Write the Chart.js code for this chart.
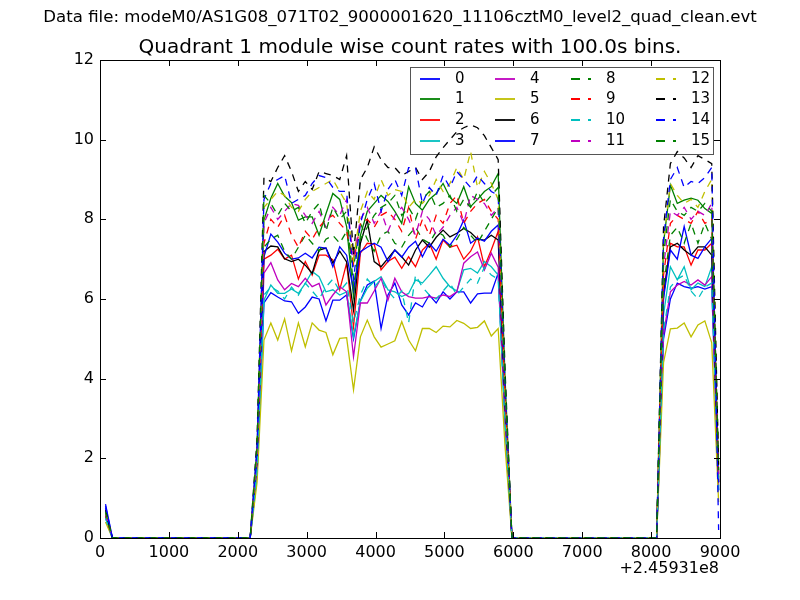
<!DOCTYPE html>
<html>
<head>
<meta charset="utf-8">
<script src="https://cdn.jsdelivr.net/npm/chart.js@4.4.1/dist/chart.umd.min.js"></script>
<style>
  body { margin: 0; background: #fff; }
  canvas { display: block; }
</style>
</head>
<body>
<canvas id="chartRates" width="800" height="600"></canvas>
<script>
// bin centres (s), offset by 2.45931e8
const times = [80,180,280,380,480,580,680,780,880,980,1080,1180,1280,1380,1480,1580,1680,1780,1880,1980,
  2080,2180,2280,2380,2480,2580,2680,2780,2880,2980,3080,3180,3280,3380,3480,3580,3680,3780,3880,3980,
  4080,4180,4280,4380,4480,4580,4680,4780,4880,4980,5080,5180,5280,5380,5480,5580,5680,5780,5880,5980,
  6080,6180,6280,6380,6480,6580,6680,6780,6880,6980,7080,7180,7280,7380,7480,7580,7680,7780,7880,7980,
  8080,8180,8280,8380,8480,8580,8680,8780,8880,8980];

const xTicks = [0,1000,2000,3000,4000,5000,6000,7000,8000,9000];
const yTicks = [0,2,4,6,8,10,12];

const seriesLabels = ["0","1","2","3","4","5","6","7","8","9","10","11","12","13","14","15"];

// count rates per module (counts/s)
const rate0 = [0.75,
  0,0,0,0,0, 0,0,0,0,0, 0,0,0,0,0, 0,0,0,0,0, 0,
  1.6,
  5.9,6.16,6.05,5.95,5.93,5.64,5.8,6.05,6.0,5.45, 5.97,5.97,6.1,5.0,5.95,6.35,6.45,5.26,6.1,6.4,
  5.85,5.6,5.9,5.8,6.1,5.9,6.18,6.0,6.18,6.18, 5.9,6.13,6.15,6.15,6.65,
  2.9,
  0,0,0,0,0, 0,0,0,0,0, 0,0,0,0,0, 0,0,0,0,0, 0,0,
  5.0,
  6.0,6.4,6.31,6.27,6.31,6.25,6.31,
  1.2];
const rate1 = [0.6,
  0,0,0,0,0, 0,0,0,0,0, 0,0,0,0,0, 0,0,0,0,0, 0,
  2.2,
  7.98,8.53,8.9,8.58,8.42,7.98,8.06,8.06,7.6,8.14, 8.65,8.5,7.82,6.06,7.6,8.2,8.4,8.6,8.45,8.2,
  7.9,8.82,8.4,8.23,8.5,8.65,8.9,8.55,8.4,8.82, 8.32,8.5,8.7,8.82,9.15,
  4.0,
  0,0,0,0,0, 0,0,0,0,0, 0,0,0,0,0, 0,0,0,0,0, 0,0,
  7.4,
  8.86,8.4,8.48,8.53,8.48,8.27,8.15,
  1.6];
const rate2 = [0.55,
  0,0,0,0,0, 0,0,0,0,0, 0,0,0,0,0, 0,0,0,0,0, 0,
  1.9,
  7.0,7.1,7.25,7.0,7.1,6.5,6.94,6.6,7.1,7.1, 6.98,6.23,6.9,5.3,7.15,7.4,7.38,6.73,6.94,7.05,
  6.77,7.06,6.81,7.23,7.4,7.0,7.48,7.3,7.35,7.0, 7.2,7.56,6.81,7.23,7.7,
  3.4,
  0,0,0,0,0, 0,0,0,0,0, 0,0,0,0,0, 0,0,0,0,0, 0,0,
  6.1,
  7.4,7.31,7.31,6.85,7.23,7.23,7.4,
  1.4];
const rate3 = [0.5,
  0,0,0,0,0, 0,0,0,0,0, 0,0,0,0,0, 0,0,0,0,0, 0,
  1.6,
  5.97,6.35,6.14,6.14,6.25,6.14,6.39,6.69,6.56,6.18, 6.23,6.1,6.18,5.05,5.94,6.27,6.44,6.56,6.23,6.18,
  6.06,6.14,6.48,6.4,6.6,6.81,6.52,6.31,6.2,6.73, 6.77,6.65,6.94,6.81,6.6,
  2.9,
  0,0,0,0,0, 0,0,0,0,0, 0,0,0,0,0, 0,0,0,0,0, 0,0,
  5.6,
  6.81,6.48,6.81,6.23,6.4,6.31,6.81,
  1.3];
const rate4 = [0.55,
  0,0,0,0,0, 0,0,0,0,0, 0,0,0,0,0, 0,0,0,0,0, 0,
  1.8,
  6.65,6.91,6.48,6.23,6.39,6.31,6.52,6.31,6.39,5.85, 6.1,6.31,6.18,4.55,5.9,5.9,6.2,6.52,5.97,6.52,
  6.18,6.06,6.02,6.02,6.06,6.02,6.1,6.06,6.18,6.9, 7.06,7.18,6.73,7.15,6.8,
  3.0,
  0,0,0,0,0, 0,0,0,0,0, 0,0,0,0,0, 0,0,0,0,0, 0,0,
  5.1,
  6.18,6.35,6.44,6.35,6.48,6.35,6.56,
  1.2];
const rate5 = [0.4,
  0,0,0,0,0, 0,0,0,0,0, 0,0,0,0,0, 0,0,0,0,0, 0,
  1.4,
  4.97,5.4,4.97,5.5,4.7,5.4,4.8,5.4,5.22,5.16, 4.6,5.01,5.03,3.72,5.05,5.47,5.05,4.79,4.87,4.95,
  5.43,4.97,4.7,5.26,5.26,5.16,5.32,5.3,5.46,5.39, 5.26,5.29,5.45,5.07,5.26,
  2.3,
  0,0,0,0,0, 0,0,0,0,0, 0,0,0,0,0, 0,0,0,0,0, 0,0,
  4.4,
  5.25,5.27,5.4,5.05,5.35,5.45,4.9,
  0.9];
const rate6 = [0.6,
  0,0,0,0,0, 0,0,0,0,0, 0,0,0,0,0, 0,0,0,0,0, 0,
  2.0,
  7.19,7.33,7.31,7.01,6.94,7.0,6.85,6.64,7.23,7.28, 6.9,7.2,6.93,5.72,7.4,7.98,6.94,6.81,7.02,7.23,
  7.06,6.85,7.23,7.48,7.3,7.55,7.73,7.56,7.65,7.77, 7.67,7.5,7.48,7.6,7.48,
  3.3,
  0,0,0,0,0, 0,0,0,0,0, 0,0,0,0,0, 0,0,0,0,0, 0,0,
  6.1,
  7.31,7.4,7.23,7.1,7.31,7.31,7.1,
  1.4];
const rate7 = [0.85,
  0,0,0,0,0, 0,0,0,0,0, 0,0,0,0,0, 0,0,0,0,0, 0,
  1.9,
  7.06,7.63,7.43,7.15,7.0,7.03,7.15,7.03,7.3,7.28, 6.81,7.31,7.1,6.22,7.19,7.3,7.4,7.3,6.94,7.23,
  7.05,7.3,7.45,7.06,7.4,7.2,7.5,7.35,7.6,7.98, 7.4,7.53,7.45,7.7,7.86,
  3.5,
  0,0,0,0,0, 0,0,0,0,0, 0,0,0,0,0, 0,0,0,0,0, 0,0,
  6.0,
  7.23,7.0,7.82,7.1,7.02,7.31,7.52,
  1.4];
const rate8 = [0.6,
  0,0,0,0,0, 0,0,0,0,0, 0,0,0,0,0, 0,0,0,0,0, 0,
  2.0,
  7.3,7.5,7.6,7.2,7.0,7.3,7.6,7.4,7.2,7.5, 7.6,7.4,7.7,6.8,7.9,7.5,7.2,7.6,7.7,7.4,
  7.3,7.6,7.8,7.5,7.4,7.7,7.6,7.3,7.5,7.8, 7.6,7.4,7.7,8.0,8.3,
  3.6,
  0,0,0,0,0, 0,0,0,0,0, 0,0,0,0,0, 0,0,0,0,0, 0,0,
  6.3,
  7.6,7.8,7.4,7.9,7.4,7.9,7.5,
  1.5];
const rate9 = [0.6,
  0,0,0,0,0, 0,0,0,0,0, 0,0,0,0,0, 0,0,0,0,0, 0,
  2.0,
  7.4,8.0,7.8,8.1,7.6,7.3,7.7,7.5,7.8,8.0, 8.1,7.9,7.7,6.9,7.9,8.0,7.8,8.1,8.2,8.0,
  7.7,8.3,7.5,8.0,7.6,8.1,7.9,8.4,8.6,7.9, 8.2,8.4,8.5,8.2,8.0,
  3.5,
  0,0,0,0,0, 0,0,0,0,0, 0,0,0,0,0, 0,0,0,0,0, 0,0,
  6.6,
  7.9,8.1,8.0,7.9,8.2,7.9,8.0,
  1.5];
const rate10 = [0.5,
  0,0,0,0,0, 0,0,0,0,0, 0,0,0,0,0, 0,0,0,0,0, 0,
  1.7,
  6.1,6.3,6.2,6.0,6.3,6.1,6.4,6.2,6.0,6.3, 6.5,6.2,6.4,5.4,6.1,6.5,6.3,6.5,6.2,6.0,
  6.2,5.4,6.6,6.3,6.1,6.0,6.2,6.4,6.1,6.3, 6.5,6.4,6.8,6.6,6.5,
  2.9,
  0,0,0,0,0, 0,0,0,0,0, 0,0,0,0,0, 0,0,0,0,0, 0,0,
  5.2,
  6.3,6.5,6.6,6.2,6.0,6.3,6.4,
  1.2];
const rate11 = [0.6,
  0,0,0,0,0, 0,0,0,0,0, 0,0,0,0,0, 0,0,0,0,0, 0,
  2.1,
  7.9,8.3,8.0,8.2,8.4,8.35,8.1,7.9,8.2,7.8, 8.3,8.1,8.5,7.0,8.0,8.3,7.9,8.2,7.7,8.1,
  8.3,8.0,7.6,8.2,8.0,7.6,7.8,8.1,8.3,7.9, 8.6,8.5,8.4,8.1,8.3,
  3.7,
  0,0,0,0,0, 0,0,0,0,0, 0,0,0,0,0, 0,0,0,0,0, 0,0,
  6.8,
  8.2,8.1,8.3,8.0,8.2,8.1,8.4,
  1.6];
const rate12 = [0.65,
  0,0,0,0,0, 0,0,0,0,0, 0,0,0,0,0, 0,0,0,0,0, 0,
  2.3,
  8.3,8.5,8.7,8.6,8.3,8.2,8.5,8.7,8.8,8.9, 9.0,8.7,8.4,7.0,8.2,8.7,8.5,9.0,8.6,8.75,
  8.7,8.3,8.5,8.4,8.6,9.0,8.7,8.9,9.3,9.0, 9.7,8.8,9.2,8.9,8.5,
  3.7,
  0,0,0,0,0, 0,0,0,0,0, 0,0,0,0,0, 0,0,0,0,0, 0,0,
  7.4,
  8.9,8.6,8.4,8.5,8.3,8.7,9.0,
  1.7];
const rate13 = [0.7,
  0,0,0,0,0, 0,0,0,0,0, 0,0,0,0,0, 0,0,0,0,0, 0,
  2.5,
  9.05,8.95,9.3,9.6,9.2,8.7,8.95,8.75,9.2,9.15, 9.1,9.0,9.6,7.1,9.0,9.3,9.82,9.5,9.3,9.3,
  9.1,9.2,9.3,9.0,9.2,9.57,9.8,10.0,10.2,10.3, 10.37,10.3,10.1,9.8,9.5,
  4.2,
  0,0,0,0,0, 0,0,0,0,0, 0,0,0,0,0, 0,0,0,0,0, 0,0,
  7.8,
  9.4,9.7,9.54,9.3,9.6,9.5,9.4,
  1.8];
const rate14 = [0.8,
  0,0,0,0,0, 0,0,0,0,0, 0,0,0,0,0, 0,0,0,0,0, 0,
  2.3,
  8.5,8.9,9.0,9.1,8.4,8.5,8.6,8.9,9.1,9.05, 8.8,8.7,8.7,6.5,7.9,8.5,8.9,8.2,8.75,9.0,
  8.6,9.3,9.3,8.4,8.8,8.6,9.1,8.8,9.2,9.0, 8.8,9.1,8.9,8.7,8.6,
  3.8,
  0,0,0,0,0, 0,0,0,0,0, 0,0,0,0,0, 0,0,0,0,0, 0,0,
  7.5,
  9.0,9.3,8.8,8.95,8.9,9.05,9.3,
  0.2];
const rate15 = [0.65,
  0,0,0,0,0, 0,0,0,0,0, 0,0,0,0,0, 0,0,0,0,0, 0,
  2.3,
  8.6,8.4,8.1,8.4,8.2,8.3,7.9,8.2,8.4,7.7, 8.3,8.0,8.2,6.3,7.5,7.8,8.1,8.3,8.4,8.6,
  8.1,8.3,8.0,8.5,8.7,8.3,8.4,8.6,8.2,8.5, 8.3,8.7,8.4,8.6,8.8,
  3.9,
  0,0,0,0,0, 0,0,0,0,0, 0,0,0,0,0, 0,0,0,0,0, 0,0,
  7.1,
  8.5,8.2,8.1,8.3,8.2,8.4,8.2,
  1.7];

const rates = [rate0, rate1, rate2, rate3, rate4, rate5, rate6, rate7,
               rate8, rate9, rate10, rate11, rate12, rate13, rate14, rate15];

// matplotlib classic b g r c m y k b, then the same again dashed
const seriesColors = ["#0000ff", "#008000", "#ff0000", "#00bfbf", "#bf00bf", "#bfbf00", "#000000", "#0000ff",
                      "#008000", "#ff0000", "#00bfbf", "#bf00bf", "#bfbf00", "#000000", "#0000ff", "#008000"];
const dashPattern = [7, 6];

const fileTitle = "Data file: modeM0/AS1G08_071T02_9000001620_11106cztM0_level2_quad_clean.evt";
const plotTitle = "Quadrant 1 module wise count rates with 100.0s bins.";
const offsetText = "+2.45931e8";

Chart.defaults.font.family = "'DejaVu Sans', sans-serif";
Chart.defaults.color = "#000";

const datasets = rates.map((vals, i) => ({
  label: seriesLabels[i],
  data: vals.map((v, j) => ({ x: times[j], y: v })),
  borderColor: seriesColors[i],
  borderWidth: 1.3,
  borderDash: i >= 8 ? dashPattern : [],
  pointRadius: 0,
  tension: 0,
  fill: false,
  order: rates.length - i, // later modules on top, like matplotlib
}));

// frame, inward ticks, titles, offset text and the 4x4 legend
const decorations = {
  id: "decorations",
  beforeDraw(chart) {
    const ctx = chart.ctx;
    ctx.save();
    ctx.fillStyle = "#fff";
    ctx.fillRect(0, 0, chart.width, chart.height);
    ctx.restore();
  },
  beforeDatasetsDraw(chart) {
    const ctx = chart.ctx;
    ctx.save();
    ctx.strokeStyle = "#555";
    ctx.lineWidth = 1;
    ctx.strokeRect(410.5, 67.5, 303, 87);
    const colX = [420, 495, 571, 656];
    const rowY = [79, 99, 120, 141];
    ctx.font = "15px 'DejaVu Sans'";
    ctx.textBaseline = "middle";
    ctx.textAlign = "left";
    seriesLabels.forEach((lab, i) => {
      const x = colX[Math.floor(i / 4)];
      const y = rowY[i % 4];
      ctx.strokeStyle = seriesColors[i];
      ctx.lineWidth = 1.8;
      ctx.setLineDash(i >= 8 ? [9, 8] : []);
      ctx.beginPath();
      ctx.moveTo(x, y);
      ctx.lineTo(x + 20, y);
      ctx.stroke();
      ctx.setLineDash([]);
      ctx.fillStyle = "#000";
      ctx.fillText(lab, x + 35, y);
    });
    ctx.restore();
  },
  afterDraw(chart) {
    const ctx = chart.ctx;
    const a = chart.chartArea;
    const xs = chart.scales.x, ys = chart.scales.y;
    ctx.save();
    ctx.strokeStyle = "#000";
    ctx.lineWidth = 1;
    ctx.strokeRect(Math.round(a.left) + 0.5, Math.round(a.top) + 0.5,
                   Math.round(a.right - a.left), Math.round(a.bottom - a.top));
    const tl = 6;
    ctx.beginPath();
    xTicks.forEach(v => {
      const px = Math.round(xs.getPixelForValue(v)) + 0.5;
      ctx.moveTo(px, a.bottom); ctx.lineTo(px, a.bottom - tl);
      ctx.moveTo(px, a.top); ctx.lineTo(px, a.top + tl);
    });
    yTicks.forEach(v => {
      const py = Math.round(ys.getPixelForValue(v)) + 0.5;
      ctx.moveTo(a.left, py); ctx.lineTo(a.left + tl, py);
      ctx.moveTo(a.right, py); ctx.lineTo(a.right - tl, py);
    });
    ctx.stroke();

    ctx.fillStyle = "#000";
    ctx.textAlign = "center";
    ctx.textBaseline = "middle";
    ctx.font = "16.6px 'DejaVu Sans'";
    ctx.fillText(fileTitle, 400, 18);
    ctx.font = "20px 'DejaVu Sans'";
    ctx.fillText(plotTitle, 410, 48);
    ctx.font = "16px 'DejaVu Sans'";
    ctx.textAlign = "right";
    ctx.fillText(offsetText, 719, 569);
    ctx.restore();
  },
};

new Chart(document.getElementById("chartRates"), {
  type: "line",
  data: { datasets },
  options: {
    responsive: false,
    animation: false,
    devicePixelRatio: 1,
    layout: { padding: { top: 60, right: 80, left: 0, bottom: 0 } },
    plugins: { legend: { display: false }, tooltip: { enabled: false } },
    scales: {
      x: {
        type: "linear",
        min: 0,
        max: 9000,
        afterFit: (s) => { s.height = 62; },
        afterBuildTicks: (s) => { s.ticks = xTicks.map(v => ({ value: v })); },
        ticks: { callback: (v) => String(v), font: { size: 16 }, color: "#000", padding: 5, maxRotation: 0, autoSkip: false },
        grid: { display: false, drawTicks: false },
        border: { display: false },
      },
      y: {
        type: "linear",
        min: 0,
        max: 12,
        afterFit: (s) => { s.width = 100; },
        afterBuildTicks: (s) => { s.ticks = yTicks.map(v => ({ value: v })); },
        ticks: { callback: (v) => String(v), font: { size: 16 }, color: "#000", padding: 6, autoSkip: false },
        grid: { display: false, drawTicks: false },
        border: { display: false },
      },
    },
  },
  plugins: [decorations],
});
</script>
</body>
</html>
